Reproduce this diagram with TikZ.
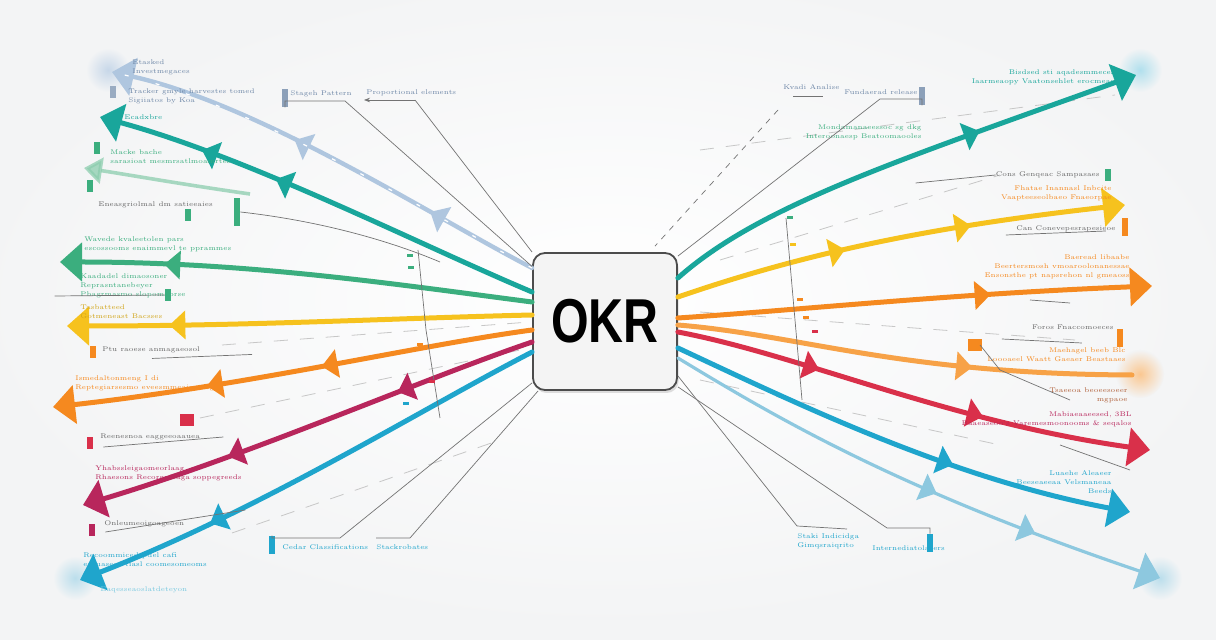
\documentclass[tikz,border=0pt]{standalone}
\usepackage{fontspec}
\usepackage{graphicx}
\setsansfont{Liberation Sans}
\usetikzlibrary{arrows.meta,positioning,calc,decorations.markings,shadows}

\definecolor{bgc}{HTML}{F3F4F5}
\definecolor{okpale}{HTML}{AFC6DF}
\definecolor{okslate}{HTML}{6F88A8}
\definecolor{okteal}{HTML}{19A69B}
\definecolor{okmint}{HTML}{8CCDAE}
\definecolor{okgreen}{HTML}{3BAE7E}
\definecolor{okyellow}{HTML}{F6C21E}
\definecolor{okorange}{HTML}{F5891F}
\definecolor{oklorange}{HTML}{F7A247}
\definecolor{okcrimson}{HTML}{B8265C}
\definecolor{okred}{HTML}{D9304A}
\definecolor{okblue}{HTML}{1FA5CC}
\definecolor{oklblue}{HTML}{8DC8DF}
\definecolor{okbrown}{HTML}{B0603A}

\tikzset{
  okrbox/.style={draw=black!70, line width=0.9pt, rounded corners=6pt, fill=gray!9,
    minimum width=72pt, minimum height=68.5pt, inner sep=0pt,
    drop shadow={opacity=0.25, shadow xshift=0.8pt, shadow yshift=-1.5pt},
    font=\sffamily\bfseries\fontsize{31}{31}\selectfont},
  leg/.style={draw=#1, line width=2.5pt, line cap=round, -{Triangle[length=11pt,width=19pt]}},
  mids/.style={postaction={decorate, decoration={markings,
    mark=at position #1 with {\arrow{Triangle[length=8pt,width=14pt]}}}}},
  lbl/.style={font=\fontsize{3.4}{4.6}\selectfont, inner sep=0pt, align=left, anchor=west},
  rlbl/.style={lbl, align=right, anchor=east},
  mk/.style={fill=#1, minimum width=3pt, minimum height=6pt, inner sep=0pt},
  thinln/.style={draw=black!55, line width=0.35pt},
  guide/.style={draw=black!22, line width=0.4pt, dash pattern=on 7pt off 6pt}
}

\begin{document}
\begin{tikzpicture}[x=0.5pt,y=-0.5pt]
  \useasboundingbox (0,0) rectangle (1216,640);
  \fill[bgc] (0,0) rectangle (1216,640);
  \shade[inner color=white, outer color=bgc] (608,300) ellipse [x radius=640, y radius=330];

  % glows at the ends
  \shade[inner color=okpale!70, outer color=bgc] (108,70) circle [radius=22];
  \shade[inner color=okblue!35, outer color=bgc] (1140,70) circle [radius=22];
  \shade[inner color=oklblue!60, outer color=bgc] (75,578) circle [radius=22];
  \shade[inner color=oklorange!60, outer color=bgc] (1140,374) circle [radius=24];
  \shade[inner color=oklblue!60, outer color=bgc] (1160,578) circle [radius=22];

  \node[okrbox] (okr) at (605,321.5) {\scalebox{0.78}[1]{OKR}};

  % tips
  \coordinate (tL1) at (112,72);
  \coordinate (tL2) at (100,117);
  \coordinate (tL3) at (84,168);
  \coordinate (sL3) at (250,194);
  \coordinate (tL4) at (60,262);
  \coordinate (tL5) at (67,326);
  \coordinate (tL6) at (53,407);
  \coordinate (tL7) at (83,505);
  \coordinate (tL8) at (80,580);
  \coordinate (tR1) at (1136,75);
  \coordinate (tR2) at (1125,205);
  \coordinate (tR3) at (1152,286);
  \coordinate (tR4) at (1132,375);
  \coordinate (tR5) at (1150,450);
  \coordinate (tR6) at (1130,512);
  \coordinate (tR7) at (1160,578);

  % faint guides
  \draw[guide] (222,345) -- (530,322);
  \draw[guide] (232,533) -- (500,440);
  \draw[guide] (200,418) -- (520,350);
  \draw[guide] (700,312) -- (1075,340);
  \draw[guide] (700,380) -- (1000,445);
  \draw[guide] (700,150) -- (1115,95);
  \draw[guide] (720,260) -- (1000,175);

  % left legs
  \draw[leg=okpale, line width=2.2pt, mids=0.25, mids=0.58] ($(okr.west)+(0,-53.5)$) .. controls (430,215) and (260,105) .. (tL1);
  \draw[white, line width=0.6pt, dash pattern=on 2pt off 14pt] ($(okr.west)+(0,-53.5)$) .. controls (430,215) and (260,105) .. (tL1);
  \draw[draw=okmint, line width=1.8pt, opacity=0.75, -{Triangle[length=9pt,width=13pt]}] (sL3) .. controls (180,184) and (130,175) .. (tL3);
  \draw[leg=okteal, mids=0.6, mids=0.77] ($(okr.west)+(0,-29.5)$) .. controls (420,245) and (250,158) .. (tL2);
  \draw[leg=okgreen, mids=0.78] ($(okr.west)+(0,-19.5)$) .. controls (400,285) and (250,262) .. (tL4);
  \draw[leg=okyellow, mids=0.78] ($(okr.west)+(0,-6.5)$) .. controls (400,318) and (250,326) .. (tL5);
  \draw[leg=okorange, mids=0.44, mids=0.68] ($(okr.west)+(0,8.5)$) .. controls (420,345) and (250,385) .. (tL6);
  \draw[leg=okcrimson, mids=0.3, mids=0.68] ($(okr.west)+(0,20.5)$) .. controls (420,380) and (250,455) .. (tL7);
  \draw[leg=okblue, mids=0.72] ($(okr.west)+(0,30.5)$) .. controls (420,410) and (260,510) .. (tL8);

  % right legs
  \draw[leg=okteal, mids=0.67] ($(okr.east)+(0,-43.5)$) .. controls (760,205) and (900,160) .. (tR1);
  \draw[leg=okyellow, mids=0.38, mids=0.66] ($(okr.east)+(0,-24.5)$) .. controls (780,262) and (900,230) .. (tR2);
  \draw[leg=okorange, mids=0.66] ($(okr.east)+(0,-3.5)$) .. controls (800,310) and (950,294) .. (tR3);
  \draw[draw=oklorange, line width=2.5pt, line cap=round, mids=0.65] ($(okr.east)+(0,3.5)$) .. controls (800,335) and (900,374) .. (tR4);
  \draw[leg=okred, mids=0.3, mids=0.65] ($(okr.east)+(0,10.5)$) .. controls (800,355) and (950,422) .. (tR5);
  \draw[leg=okblue, mids=0.62] ($(okr.east)+(0,26.5)$) .. controls (800,405) and (950,478) .. (tR6);
  \draw[leg=oklblue, line width=1.6pt, mids=0.55, mids=0.75] ($(okr.east)+(0,36.5)$) .. controls (780,420) and (900,490) .. (tR7);

  % left labels
  \node[lbl, text=okslate] (a1) at (132,67) {Etasked\\Investmegaces};
  \node[mk=okslate!70] (m1) at (113,92) {};
  \node[lbl, text=okslate] (a3) at (128,96) {Tracker gmyle harvestes tomed\\Sigiiatos by Koa};
  \node[lbl, text=okteal] (a5) at (124,117) {Ecadxbre};
  \node[mk=okgreen] (m2) at (97,148) {};
  \node[mk=okgreen] (m3) at (90,186) {};
  \node[lbl, text=okgreen] (a6) at (110,157) {Macke bache\\sarasioat mesmrsatlmoamrtes};
  \node[lbl, text=black!60] (a8) at (98,205) {Eneasgriolmal dm satieeaies};
  \node[mk=okgreen] (m4) at (188,215) {};
  \node[mk=okgreen, minimum height=14pt] (m5) at (237,212) {};
  \node[lbl, text=okgreen] (a9) at (84,244) {Wavede kvaleetolen pars\\escossooms enaimmevl te pprammes};
  \node[lbl, text=okgreen] (a11) at (80,286) {Kaadadel dimaosoner\\Reprasntanebeyer\\Pbagrmasmo slopomabrse};
  \node[mk=okgreen] (m6) at (168,295) {};
  \node[lbl, text=okyellow!85!black] (a14) at (80,312) {Tasbatteed\\Gotmeneast Bacsses};
  \node[mk=okorange] (m7) at (93,352) {};
  \node[lbl, text=black!60] (a16) at (102,350) {Ptu raoese anmagaeosol};
  \node[lbl, text=okorange] (a17) at (75,383) {Ismedaltonmeng I di\\Reptegiarsesmo eveesmmeaiperssg};
  \node[mk=okred, minimum width=7pt] (m8) at (187,420) {};
  \node[mk=okred] (m9) at (90,443) {};
  \node[lbl, text=black!60] (a19) at (100,437) {Reenesnoa eaggeeoaauea};
  \node[lbl, text=okcrimson] (a20) at (95,473) {Yhabssleigaomeorlaag\\Rhaesons Recorgnicaga soppegreeds};
  \node[mk=okcrimson] (m10) at (92,530) {};
  \node[lbl, text=black!60] (a22) at (104,524) {Onleumeoigoageoen};
  \node[lbl, text=okblue] (a23) at (83,560) {Recoommiced pdel cafi\\esguaseos tiasl coomesomeoms};
  \node[lbl, text=okblue!60] (a25) at (100,590) {Eaqesseaoslatdeteyon};

  % top and bottom labels, left
  \node[mk=okslate!80, minimum height=9pt] (m11) at (285,98) {};
  \node[lbl, text=okslate] (b1) at (290,94) {Stageh Pattern};
  \node[lbl, text=okslate] (b2) at (366,93) {Proportional elements};
  \node[mk=okblue, minimum height=9pt] (m12) at (272,545) {};
  \node[lbl, text=okblue] (b3) at (282,547) {Cedar Classifications};
  \node[lbl, text=okblue] (b4) at (376,547) {Stackrobates};

  % right labels
  \node[lbl, text=okslate] (c1) at (783,87) {Kvadi Analise};
  \node[rlbl, text=okslate] (c2) at (918,92) {Fundaerad release};
  \node[mk=okslate!80, minimum height=9pt] (m13) at (922,96) {};
  \node[rlbl, text=okteal] (c3) at (1115,77) {Bisdsed sti aqadesmmeces\\Iaarmeaopy Vaatonsehlet erocmeae};
  \node[rlbl, text=okgreen] (c5) at (922,132) {Mondamanaeessoc sg dkg\\Interoonaesp Beatoomaooles};
  \node[rlbl, text=black!60] (c7) at (1100,175) {Cons Genqeac Sampasaes};
  \node[mk=okgreen] (m14) at (1108,175) {};
  \node[rlbl, text=okorange] (c8) at (1112,193) {Fhatae Inannasl Inbcite\\Vaapteeseolbaeo Fnaeorpae};
  \node[rlbl, text=black!60] (c10) at (1116,229) {Can Conevepesrapesieoe};
  \node[mk=okorange, minimum height=9pt] (m15) at (1125,227) {};
  \node[rlbl, text=okorange] (c11) at (1130,267) {Baeread libaabe\\Beertersmosh vmoaroolonanessae\\Ensonsthe pt napsrehon nl gmeaoss};
  \node[rlbl, text=black!60] (c13) at (1114,327) {Foros Fnaccomoeces};
  \node[mk=okorange, minimum height=9pt] (m16) at (1120,338) {};
  \node[mk=okorange, minimum width=7pt] (m17) at (975,345) {};
  \node[rlbl, text=okorange] (c14) at (1126,355) {Maehagel beeb Blc\\Loooaeel Waatt Gaeaer Beastaaes};
  \node[rlbl, text=okbrown] (c16) at (1128,395) {Tsaeeoa beoeesoeer\\mgpaoe};
  \node[rlbl, text=okcrimson] (c18) at (1132,419) {Mabiaeaaeesed, 3BL\\Baaeaseoo's Varemesmoonooms \& seqalos};
  \node[rlbl, text=okblue] (c20) at (1112,482) {Luaehe Aleaeer\\Beeseaeeaa Velsmaneaa\\Beeds};
  \node[lbl, text=okblue] (c23) at (797,541) {Staki Indicidga\\Gimqsraiqrito};
  \node[lbl, text=okblue] (c25) at (872,548) {Internediatolaters};
  \node[mk=okblue, minimum height=9pt] (m18) at (930,543) {};

  % thin connectors
  \coordinate (k1) at (345,101);
  \coordinate (k2) at (415,100);
  \coordinate (k3) at (778,110);
  \coordinate (k4) at (880,99);
  \coordinate (k5) at (340,538);
  \coordinate (k6) at (410,538);
  \coordinate (k7) at (797,526);
  \coordinate (k8) at (887,528);
  \draw[thinln] (m11.south) |- (k1) -- ($(okr.west)+(0,-55)$);
  \draw[thinln, -{Stealth[length=3pt]}] (k2) -- ([xshift=-1pt]b2.south west |- k2);
  \draw[thinln] (k2) -- (okr.north west);
  \draw[thinln] (c1.south west) ++(10,6) -- ++(30,0);
  \draw[thinln, dashed] (k3) -- ($(okr.north)+(50,-6)$);
  \draw[thinln] (m13.south) |- (k4) -- ($(okr.north east)+(0,4)$);
  \draw[thinln] (m12.north) |- (k5) -- ($(okr.south west)+(0,-8)$);
  \draw[thinln] (b4.north west |- k6) -- (k6) -- ($(okr.south west)+(6,0)$);
  \draw[thinln] (k7) -- ++(50,3);
  \draw[thinln] (k7) -- ($(okr.south east)+(0,-15)$);
  \draw[thinln] (m18.north) |- (k8) -- ($(okr.south east)+(0,-4)$);

  % little bracket lines and ticks
  \draw[thinln] (m5.east) .. controls (330,222) and (400,245) .. (440,262);
  \draw[thinln] (418,250) -- (426,330) -- (440,418);
  \draw[thinln] (786,218) -- (795,320) -- (802,400);
  \draw[thinln] (m6.west) -- ++(-110,1);
  \draw[thinln] (a16.south west) ++(50,5) -- ++(100,-4);
  \draw[thinln] (m9.east) ++(10,4) -- ++(120,-10);
  \draw[thinln] (m10.east) ++(10,2) -- ++(140,-22);
  \draw[thinln] (c7.west) -- ++(-80,8);
  \draw[thinln] (c10.west) ++(-10,6) -- ++(100,-4);
  \draw[thinln] (c13.west) ++(-30,12) -- ++(80,4);
  \draw[thinln] (980,345) -- (1000,370) -- (1070,400);
  \draw[thinln] (1060,445) -- (1130,470);
  \draw[thinln] (1030,300) -- (1070,303);
  \foreach \x/\y/\c in {410/256/okgreen, 411/268/okgreen, 415/318/okyellow, 420/345/okorange, 432/382/okred, 406/404/okblue,
                        790/218/okgreen, 793/245/okyellow, 800/300/okorange, 806/318/okorange, 815/332/okred}
    \fill[\c] (\x-3,\y-1.5) rectangle (\x+3,\y+1.5);
\end{tikzpicture}
\end{document}
